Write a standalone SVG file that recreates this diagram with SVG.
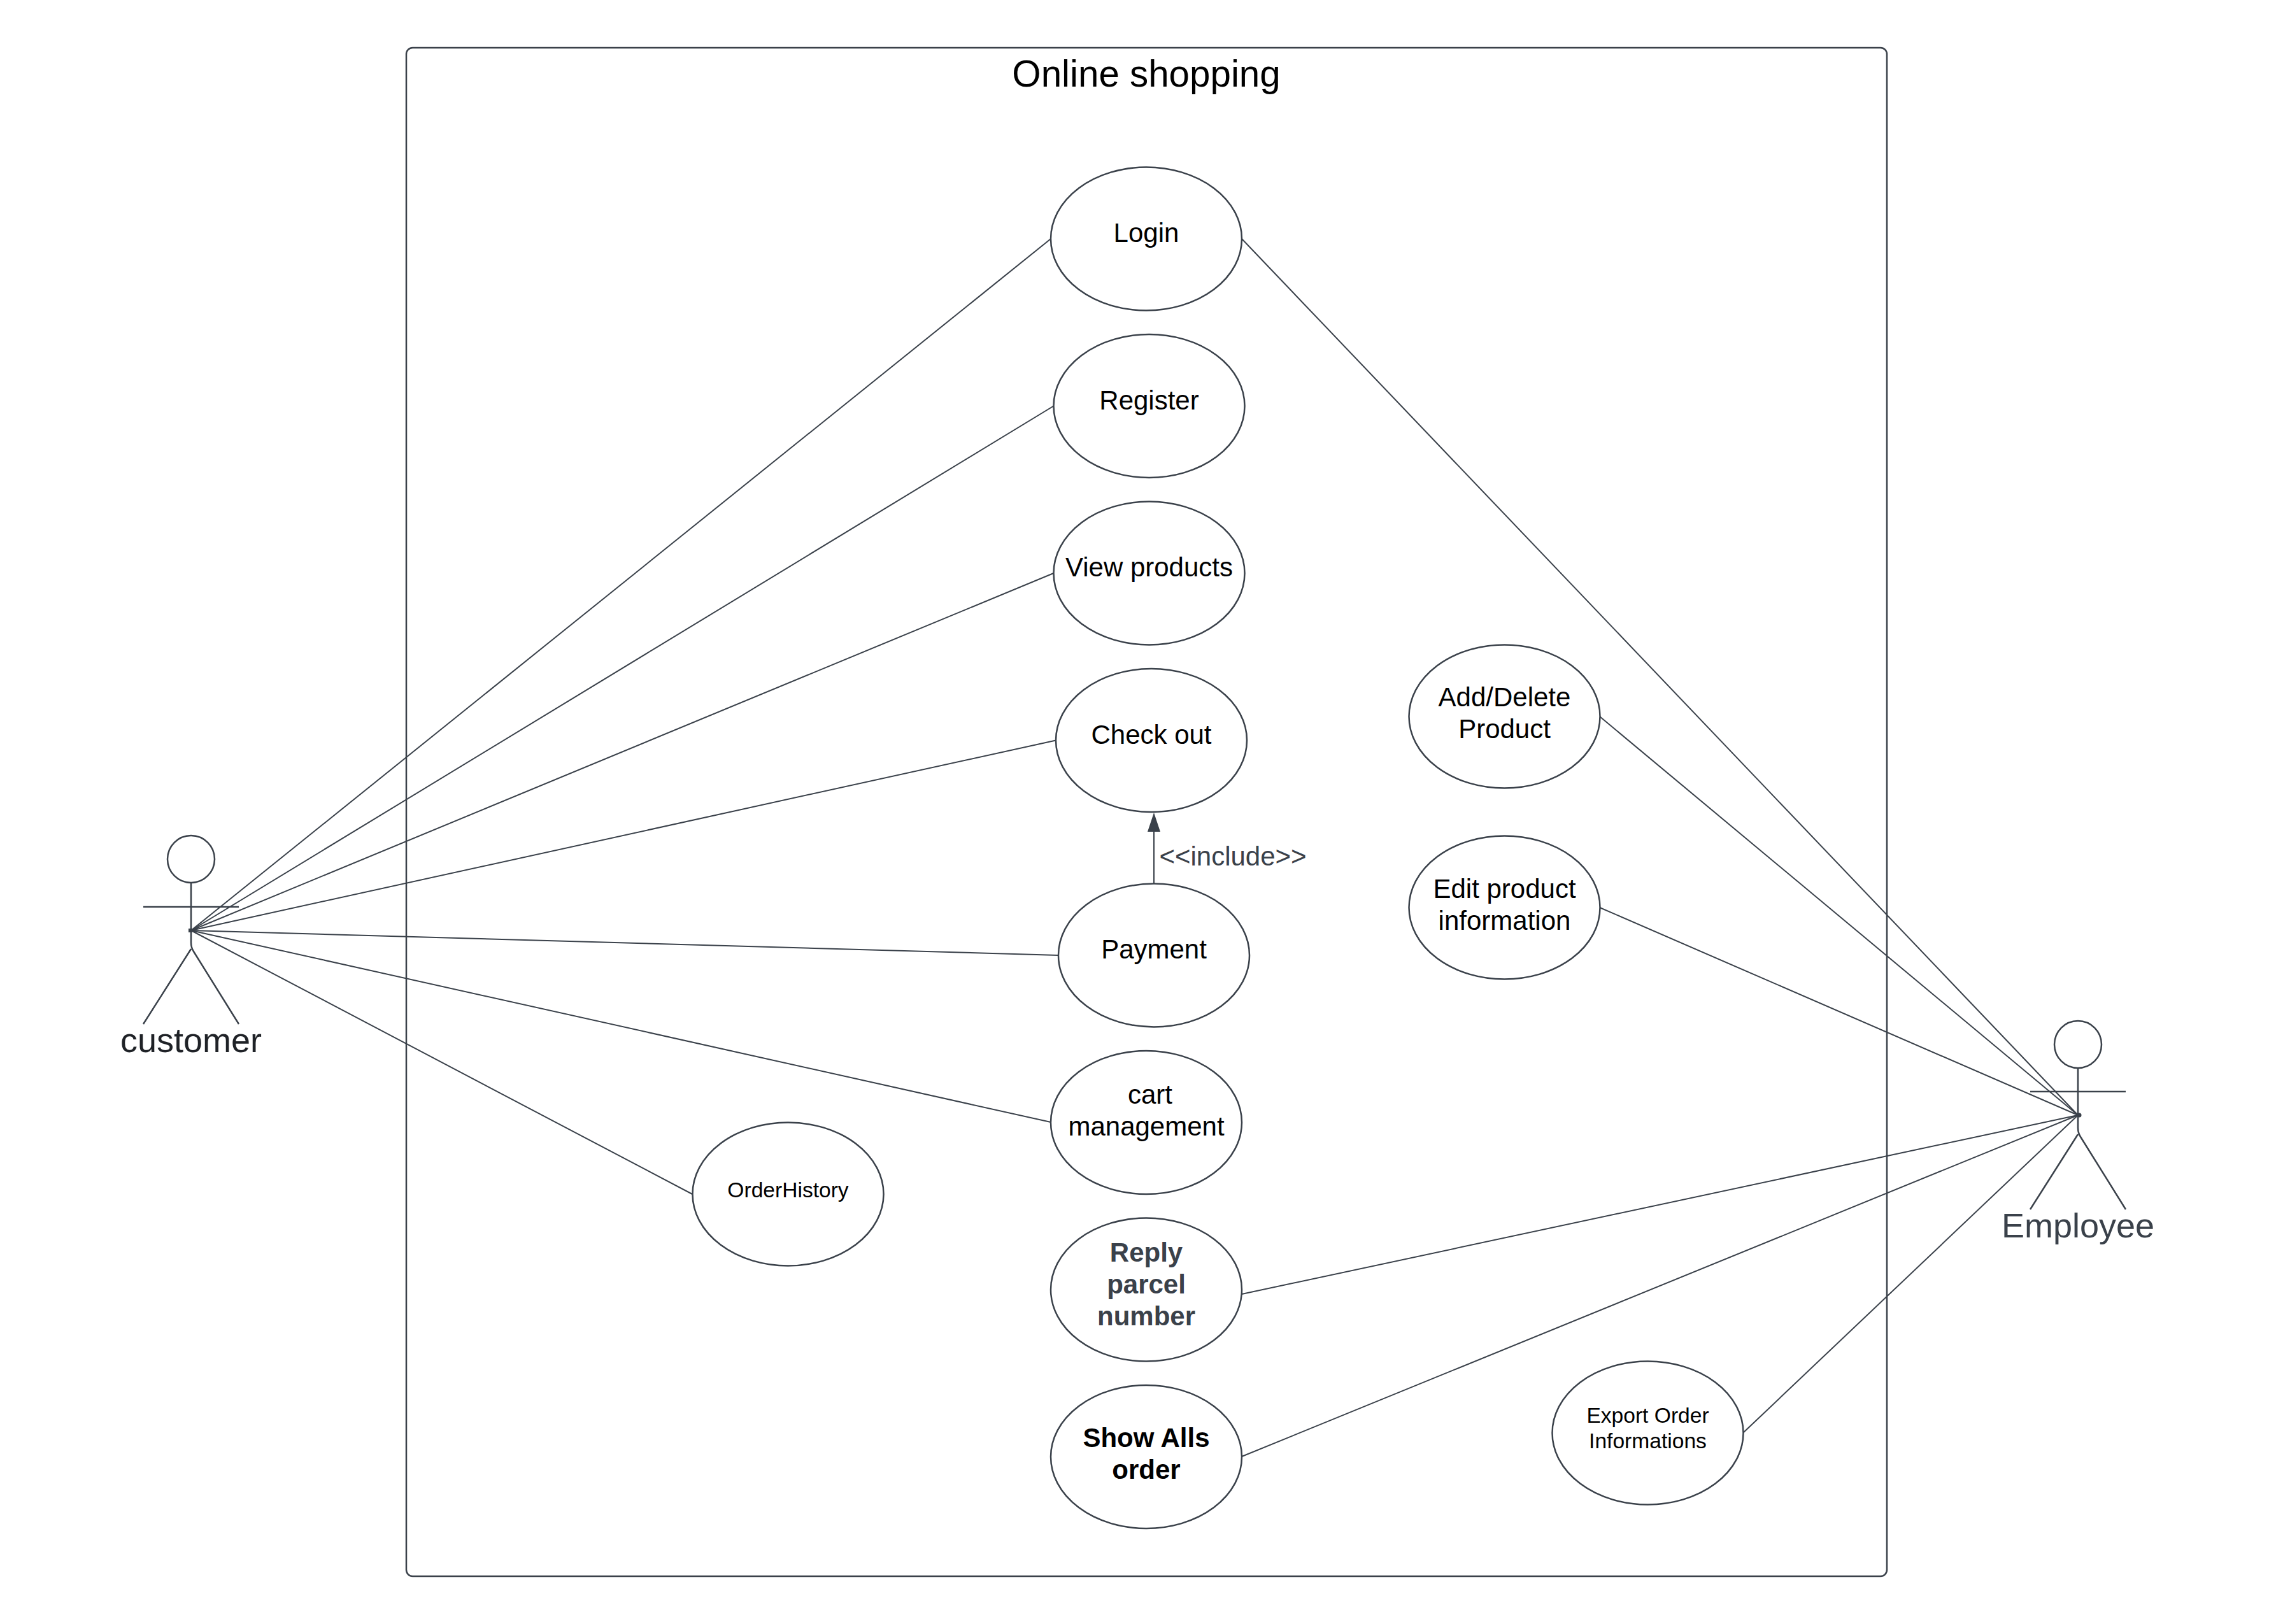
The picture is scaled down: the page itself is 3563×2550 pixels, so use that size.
<svg xmlns="http://www.w3.org/2000/svg" width="3563" height="2550" viewBox="0 0 3563 2550">
<style>
.s{fill:none;stroke:#3a414a;stroke-width:2.5}
.e{fill:#fff;stroke:#3a414a;stroke-width:2.5}
.c{fill:none;stroke:#3a414a;stroke-width:2}
text{font-family:"Liberation Sans",Arial,sans-serif;text-anchor:middle;fill:#000;font-size:42px}
.g{fill:#3a414a}
.sm{font-size:33.6px}
.b{font-weight:bold}
</style>
<rect width="3563" height="2550" fill="#fff"/>
<g id="system">
<rect class="s" x="638" y="75" width="2325" height="2400" rx="10"/>
<text x="1800" y="136" style="font-size:58.3px">Online shopping</text>
</g>
<g id="connectors">
<path class="c" d="M300,1461L1650,375"/>
<path class="c" d="M300,1461L1654.5,637.5"/>
<path class="c" d="M300,1461L1654.5,900"/>
<path class="c" d="M300,1461L1658,1162.5"/>
<path class="c" d="M300,1461L1662,1500"/>
<path class="c" d="M300,1461L1650,1762"/>
<path class="c" d="M300,1461L1087,1875"/>
<path class="c" d="M3263,1751L1950,375"/>
<path class="c" d="M3263,1751L2512,1125"/>
<path class="c" d="M3263,1751L2512,1425"/>
<path class="c" d="M3263,1751L1950,2032"/>
<path class="c" d="M3263,1751L1950,2287"/>
<path class="c" d="M3263,1751L2737,2250"/>
<path class="c" d="M1812,1387V1305"/>
<path class="g" d="M1812,1276L1802,1306H1822Z"/>
<text class="g" x="1936" y="1359">&lt;&lt;include&gt;&gt;</text>
</g>
<g id="customer">
<circle class="s" cx="300" cy="1349" r="37"/>
<path class="s" d="M300,1386V1480Q300,1488 304,1494L375,1608M225,1424H375M300,1490L225,1608"/>
<rect x="296" y="1458" width="6" height="6" fill="#3a414a"/>
<text x="300" y="1652" style="font-size:54px;fill:#1f2227">customer</text>
</g>
<g id="employee">
<circle class="s" cx="3263" cy="1640" r="37"/>
<path class="s" d="M3263,1677V1771Q3263,1779 3267,1785L3338,1899M3188,1714H3338M3263,1781L3188,1899"/>
<circle cx="3265" cy="1751" r="3.5" fill="#3a414a"/>
<text class="g" x="3263" y="1943" style="font-size:54px">Employee</text>
</g>
<g id="login"><ellipse class="e" cx="1800" cy="375" rx="150" ry="112.5"/><text x="1800" y="380">Login</text></g>
<g id="register"><ellipse class="e" cx="1804.5" cy="637.5" rx="150" ry="112.5"/><text x="1804.5" y="643">Register</text></g>
<g id="view-products"><ellipse class="e" cx="1804.5" cy="900" rx="150" ry="112.5"/><text x="1804.5" y="905">View products</text></g>
<g id="check-out"><ellipse class="e" cx="1808" cy="1162.5" rx="150" ry="112.5"/><text x="1808" y="1168">Check out</text></g>
<g id="payment"><ellipse class="e" cx="1812" cy="1500" rx="150" ry="112.5"/><text x="1812" y="1505">Payment</text></g>
<g id="cart-management"><ellipse class="e" cx="1800" cy="1762.5" rx="150" ry="112.5"/><text x="1806" y="1733">cart</text><text x="1800" y="1783">management</text></g>
<g id="reply-parcel"><ellipse class="e" cx="1800" cy="2025" rx="150" ry="112.5"/><text class="g b" x="1800" y="1981">Reply</text><text class="g b" x="1800" y="2031">parcel</text><text class="g b" x="1800" y="2081">number</text></g>
<g id="show-alls"><ellipse class="e" cx="1800" cy="2287.5" rx="150" ry="112.5"/><text class="b" x="1800" y="2272">Show Alls</text><text class="b" x="1800" y="2322">order</text></g>
<g id="order-history"><ellipse class="e" cx="1237.5" cy="1875" rx="150" ry="112.5"/><text class="sm" x="1237.5" y="1880">OrderHistory</text></g>
<g id="add-delete"><ellipse class="e" cx="2362.5" cy="1125" rx="150" ry="112.5"/><text x="2362.5" y="1109">Add/Delete</text><text x="2362.5" y="1159">Product</text></g>
<g id="edit-product"><ellipse class="e" cx="2362.5" cy="1425" rx="150" ry="112.5"/><text x="2362.5" y="1410">Edit product</text><text x="2362.5" y="1460">information</text></g>
<g id="export-order"><ellipse class="e" cx="2587.5" cy="2250" rx="150" ry="112.5"/><text class="sm" x="2587.5" y="2234">Export Order</text><text class="sm" x="2587.5" y="2274">Informations</text></g>
</svg>
